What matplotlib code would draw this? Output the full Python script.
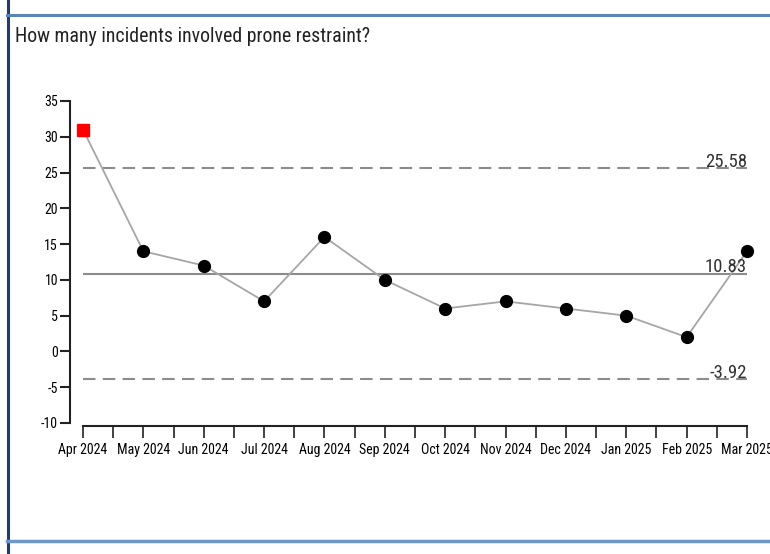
import matplotlib
matplotlib.use("Agg")
import matplotlib.pyplot as plt
from matplotlib.lines import Line2D
import numpy as np

months = ["Apr 2024", "May 2024", "Jun 2024", "Jul 2024", "Aug 2024", "Sep 2024",
          "Oct 2024", "Nov 2024", "Dec 2024", "Jan 2025", "Feb 2025", "Mar 2025"]
values = [31, 14, 12, 7, 16, 10, 6, 7, 6, 5, 2, 14]
flagged = [True] + [False] * 11
mean_val = 10.83
ucl = 25.58
lcl = -3.92
yticks = [-10, -5, 0, 5, 10, 15, 20, 25, 30, 35]

plt.rcParams['font.family'] = ['Roboto Condensed', 'Liberation Sans Narrow', 'DejaVu Sans']
plt.rcParams['font.stretch'] = 'condensed'

W, H = 770, 554
PX = 72 / 100  # points per pixel at dpi 100
fig = plt.figure(figsize=(W / 100, H / 100), dpi=100)

def fx(px):
    return px / W

def fy(py):
    return 1 - py / H

ax = fig.add_axes([fx(83), fy(423), fx(747) - fx(83), fy(101) - fy(423)])
x = np.arange(len(months))

ax.plot(x, values, color="#a6a6a6", lw=1.3, zorder=2)
for xi, v, f in zip(x, values, flagged):
    if f:
        ax.plot(xi, v, marker="s", ms=8, color="#ff0000", mec="#ff0000", zorder=3, clip_on=False)
    else:
        ax.plot(xi, v, marker="o", ms=8.5, color="black", zorder=3, clip_on=False)

ax.axhline(mean_val, color="#8c8c8c", lw=1.5, zorder=1)
ax.axhline(ucl, color="#8c8c8c", lw=1.5, ls=(0, (6, 3.5)), zorder=1)
ax.axhline(lcl, color="#8c8c8c", lw=1.5, ls=(0, (6, 3.5)), zorder=1)

for val, lab in [(ucl, "25.58"), (mean_val, "10.83"), (lcl, "-3.92")]:
    ax.text(len(months) - 1, val - 0.3, lab, ha="right", va="bottom", fontsize=13.5,
            color="#333333", zorder=4)

ax.set_xlim(0, len(months) - 1)
ax.set_ylim(-10, 35)
ax.set_yticks(yticks)
ax.set_yticklabels([str(t) for t in yticks], fontsize=9.5, color="#333333")
ax.set_xticks(x)
ax.set_xticklabels(months, fontsize=6.8, color="#333333")
ax.set_xticks(np.arange(0.5, len(months) - 1, 1.0), minor=True)

for s in ["top", "right"]:
    ax.spines[s].set_visible(False)
ax.spines["left"].set_position(("outward", 13 * PX))
ax.spines["bottom"].set_position(("outward", 3 * PX))
for s in ["left", "bottom"]:
    ax.spines[s].set_color("#222222")
    ax.spines[s].set_linewidth(1.5)
ax.tick_params(axis="y", length=10 * PX, width=1.5, color="#222222", pad=2 * PX)
ax.tick_params(axis="x", which="both", length=12 * PX, width=1.2, color="#222222", pad=5 * PX)
ax.patch.set_visible(False)

fig.text(fx(15), fy(36), "How many incidents involved prone restraint?", fontsize=14.3,
         color="#222222", va="center", ha="left")

fig.add_artist(Line2D([fx(7.5), fx(7.5)], [0, 1], color="#1f3f6b", lw=2.2, transform=fig.transFigure))
fig.add_artist(Line2D([fx(7), 1], [fy(15), fy(15)], color="#5a86b8", lw=2.2, transform=fig.transFigure))
fig.add_artist(Line2D([fx(7), 1], [fy(541), fy(541)], color="#6f98c6", lw=2.5, transform=fig.transFigure))

fig.savefig("out.png", dpi=100)
